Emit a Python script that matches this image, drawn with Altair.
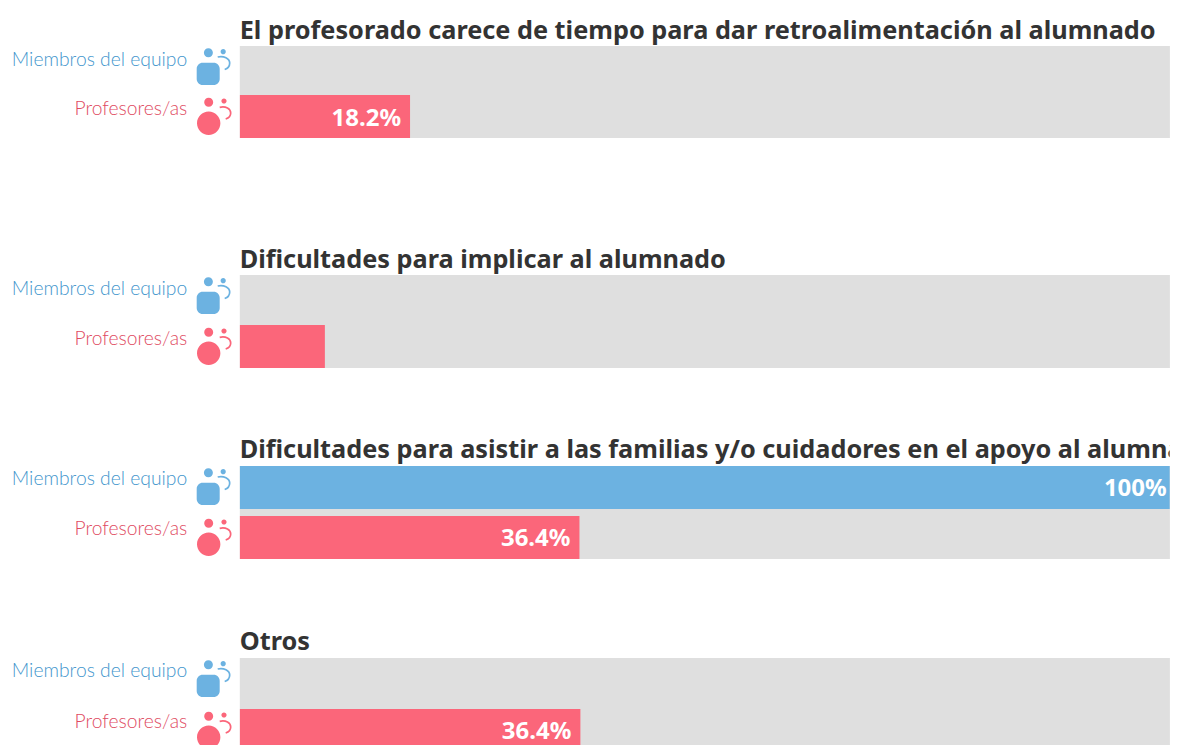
import altair as alt
import pandas as pd

titles = [
    "El profesorado carece de tiempo para dar retroalimentación al alumnado",
    "Dificultades para implicar al alumnado",
    "Dificultades para asistir a las familias y/o cuidadores en el apoyo al alumnado",
    "Otros",
]
groups = ["Miembros del equipo", "Profesores/as"]
members = [None, None, 100, None]
teachers = [18.2, 9.1, 36.3, 36.4]
member_labels = ["", "", "100%", ""]
teacher_labels = ["18.2%", "", "36.4%", "36.4%"]
title_heights = [38, 137, 98, 99]
panel_gaps = [6, 7, 7, 8]

BLUE, PINK, TRACK = "#6CB2E1", "#FB667A", "#DFDFDF"
BLUE_TXT, PINK_TXT = "#4396CD", "#E04A61"
TITLE_COL = "#333333"
LABEL_FONT, TITLE_FONT = "Lato", "Noto Sans"
PANEL_W = 930
BAR_H = 43


def circle(cx, cy, r):
    return f"M{cx-r},{cy}A{r},{r} 0 1 0 {cx+r},{cy}A{r},{r} 0 1 0 {cx-r},{cy}Z"


BLUE_ICON = (
    circle(-5.3, -14.8, 4.5) + circle(9.5, -15.8, 2.6)
    + "M-11,-4.8H0A6,6 0 0 1 6,1.2V11.5A6,6 0 0 1 0,17.5H-11A6,6 0 0 1 -17,11.5V1.2A6,6 0 0 1 -11,-4.8Z"
)
PINK_ICON = circle(-5, -14.2, 4.5) + circle(10.3, -15.5, 2.6) + circle(-5, 6.8, 11.7)
BLUE_ARC = "M4,-10.5C10,-12 16,-9 16,-4.5C16,-1 14,1 11,2"
PINK_ARC = "M6,-9.2C12,-10.5 17,-8 17,-3.5C17,-0.5 15,1.5 12,2.5"

# the page leaves 930 px for the panel, 6 px short of the reference's 936 px for 0-100
X = alt.Scale(domain=[0, PANEL_W / 9.36], nice=False, zero=False)


def title_panel(text, h):
    df = pd.DataFrame({"t": [text]})
    return (
        alt.Chart(df)
        .mark_text(clip=True, align="left", baseline="middle", font=TITLE_FONT,
                   fontWeight="bold", fontSize=25.3, color=TITLE_COL)
        .encode(x=alt.value(0), y=alt.value(h - 15.5), text="t:N")
        .properties(width=PANEL_W, height=h)
    )


def bar_panel(m, t, ml, tl, gap):
    df = pd.DataFrame({"g": groups, "v": [m, t], "lab": [ml, tl]})
    base = alt.Chart(df)
    Y = alt.Scale(domain=groups, paddingInner=gap / (BAR_H + gap), paddingOuter=0)
    y = alt.Y(
        "g:N", scale=Y, title=None,
        axis=alt.Axis(
            domain=False, ticks=False, labelPadding=53, labelOffset=-8, labelFontSize=19.3,
            labelFont=LABEL_FONT, labelFontWeight=300, labelLimit=220,
            labelColor=alt.condition(f"datum.value == '{groups[0]}'", alt.value(BLUE_TXT), alt.value(PINK_TXT)),
        ),
    )
    track = base.mark_rect(color=TRACK, clip=True).encode(x=alt.datum(0, scale=X, axis=None), x2=alt.datum(100))
    bars = base.mark_bar(clip=True, cornerRadius=0).encode(
        x=alt.X("v:Q", scale=X, axis=None), y=y,
        color=alt.Color("g:N", scale=alt.Scale(domain=groups, range=[BLUE, PINK]), legend=None),
    )
    labs = base.transform_filter("datum.lab != ''").mark_text(
        align="right", baseline="middle", dx=-9, dy=2, font=TITLE_FONT, fontWeight="bold", fontSize=24, color="white"
    ).encode(x=alt.X("v:Q", scale=X, axis=None), y=y, text="lab:N")
    layers = [track, bars, labs]
    for name, icon, arc, col in [(groups[0], BLUE_ICON, BLUE_ARC, BLUE), (groups[1], PINK_ICON, PINK_ARC, PINK)]:
        d = base.transform_filter(f"datum.g == '{name}'")
        layers.append(d.mark_point(shape=icon, size=4, filled=True, opacity=1, color=col, strokeWidth=0)
                      .encode(x=alt.value(-26), y=y))
        layers.append(d.mark_point(shape=arc, size=4, filled=False, opacity=1, color=col, strokeWidth=1.7)
                      .encode(x=alt.value(-26), y=y))
    return alt.layer(*layers).properties(width=PANEL_W, height=2 * BAR_H + gap)


panels = []
for i in range(4):
    panels.append(title_panel(titles[i], title_heights[i]))
    panels.append(bar_panel(members[i], teachers[i], member_labels[i], teacher_labels[i], panel_gaps[i]))

chart = (
    alt.vconcat(*panels, spacing=0)
    .resolve_scale(color="independent")
    .properties(padding={"left": 2.7, "top": 0, "right": 0, "bottom": 0})
    .configure_view(stroke=None)
)
chart.save("out.html", embed_options={"renderer": "svg", "actions": False})
